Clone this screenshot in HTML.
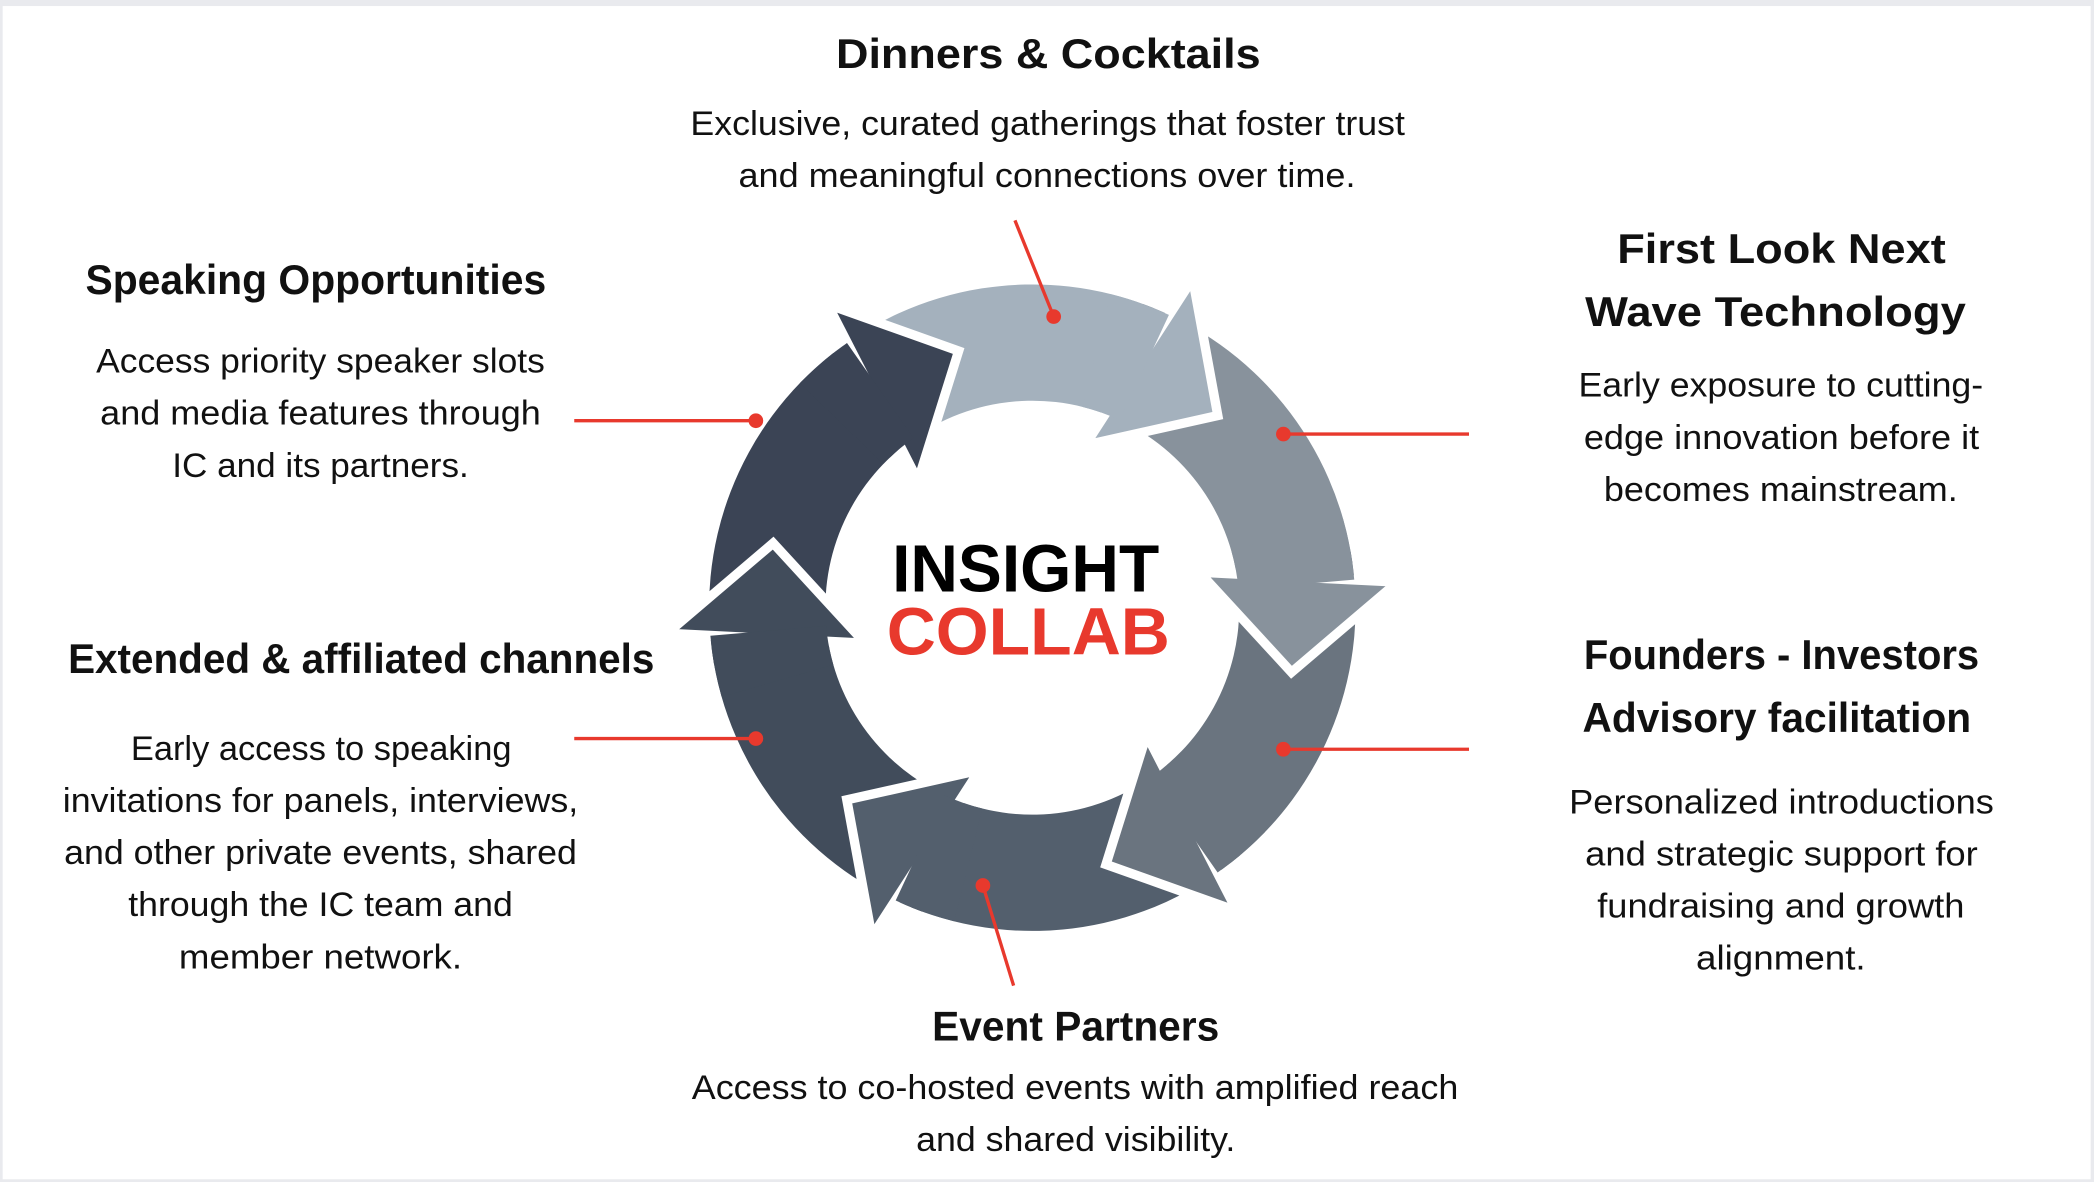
<!DOCTYPE html>
<html><head><meta charset="utf-8"><style>
html,body{margin:0;padding:0;background:#e9eaee;}
svg{display:block;}
text{font-family:"Liberation Sans",sans-serif;fill:#111;}
.t{font-weight:bold;font-size:31px;}
.b{font-size:26px;}
</style></head><body>
<svg width="2094" height="1182" viewBox="0 0 1568 885" xmlns="http://www.w3.org/2000/svg">
<rect x="0" y="0" width="1568" height="885" fill="#e9eaee"/>
<rect x="2" y="4.5" width="1563.5" height="878.5" fill="#ffffff"/>

<defs>
<path id="body" d="M617.4,269.6 A242,242 0 0 1 863.7,230.6 L831.1,311.3 A155,155 0 0 0 673.4,336.3 Z"/>
<path id="head" d="M893.1,208.7 L911.9,311.1 L812.6,333.3 Z"/>
<path id="patch" d="M831.5,220.2 A242,242 0 0 1 875.3,235.7 L838.5,314.5 A155,155 0 0 0 810.5,304.6 Z"/>
</defs>

<!-- bodies -->
<use href="#body" fill="#a4b1bd"/>
<use href="#body" fill="#88929c" transform="rotate(60 773 455)"/>
<use href="#body" fill="#6a747f" transform="rotate(120 773 455)"/>
<use href="#body" fill="#535f6d" transform="rotate(180 773 455)"/>
<use href="#body" fill="#414c5b" transform="rotate(240 773 455)"/>
<use href="#body" fill="#3b4455" transform="rotate(300 773 455)"/>
<!-- heads -->
<g stroke="#fff" stroke-width="7" stroke-linejoin="miter">
<use href="#head" fill="#a4b1bd"/>
<use href="#head" fill="#88929c" transform="rotate(60 773 455)"/>
<use href="#head" fill="#6a747f" transform="rotate(120 773 455)"/>
<use href="#head" fill="#535f6d" transform="rotate(180 773 455)"/>
<use href="#head" fill="#414c5b" transform="rotate(240 773 455)"/>
<use href="#head" fill="#3b4455" transform="rotate(300 773 455)"/>
</g>
<!-- patches -->
<use href="#patch" fill="#a4b1bd"/>
<use href="#patch" fill="#88929c" transform="rotate(60 773 455)"/>
<use href="#patch" fill="#6a747f" transform="rotate(120 773 455)"/>
<use href="#patch" fill="#535f6d" transform="rotate(180 773 455)"/>
<use href="#patch" fill="#414c5b" transform="rotate(240 773 455)"/>
<use href="#patch" fill="#3b4455" transform="rotate(300 773 455)"/>

<!-- logo -->
<text x="668" y="443" font-size="50" font-weight="bold" textLength="200" lengthAdjust="spacingAndGlyphs" style="fill:#000">INSIGHT</text>
<text x="664" y="490" font-size="50" textLength="212" lengthAdjust="spacingAndGlyphs" style="fill:#e8392d;font-weight:bold">COLLAB</text>

<!-- connectors -->
<g stroke="#e8392d" stroke-width="2.5" fill="#e8392d">
<line x1="760" y1="165" x2="789" y2="237"/><circle cx="789" cy="237" r="5.5" stroke="none"/>
<line x1="430" y1="315" x2="566" y2="315"/><circle cx="566" cy="315" r="5.5" stroke="none"/>
<line x1="961" y1="325" x2="1100" y2="325"/><circle cx="961" cy="325" r="5.5" stroke="none"/>
<line x1="430" y1="553" x2="566" y2="553"/><circle cx="566" cy="553" r="5.5" stroke="none"/>
<line x1="961" y1="561" x2="1100" y2="561"/><circle cx="961" cy="561" r="5.5" stroke="none"/>
<line x1="736" y1="663" x2="759" y2="738"/><circle cx="736" cy="663" r="5.5" stroke="none"/>
</g>

<!-- texts -->
<text class="t" x="626" y="51" textLength="318" lengthAdjust="spacingAndGlyphs">Dinners &amp; Cocktails</text>
<text class="b" x="517" y="101" textLength="535" lengthAdjust="spacingAndGlyphs">Exclusive, curated gatherings that foster trust</text>
<text class="b" x="553" y="140" textLength="462" lengthAdjust="spacingAndGlyphs">and meaningful connections over time.</text>

<text class="t" x="64" y="220" textLength="345" lengthAdjust="spacingAndGlyphs">Speaking Opportunities</text>
<text class="b" x="72" y="279" textLength="336" lengthAdjust="spacingAndGlyphs">Access priority speaker slots</text>
<text class="b" x="75" y="318" textLength="330" lengthAdjust="spacingAndGlyphs">and media features through</text>
<text class="b" x="129" y="357" textLength="222" lengthAdjust="spacingAndGlyphs">IC and its partners.</text>

<text class="t" x="51" y="504" textLength="439" lengthAdjust="spacingAndGlyphs">Extended &amp; affiliated channels</text>
<text class="b" x="98" y="569" textLength="285" lengthAdjust="spacingAndGlyphs">Early access to speaking</text>
<text class="b" x="47" y="608" textLength="386" lengthAdjust="spacingAndGlyphs">invitations for panels, interviews,</text>
<text class="b" x="48" y="647" textLength="384" lengthAdjust="spacingAndGlyphs">and other private events, shared</text>
<text class="b" x="96" y="686" textLength="288" lengthAdjust="spacingAndGlyphs">through the IC team and</text>
<text class="b" x="134" y="725" textLength="212" lengthAdjust="spacingAndGlyphs">member network.</text>

<text class="t" x="1211" y="197" textLength="246" lengthAdjust="spacingAndGlyphs">First Look Next</text>
<text class="t" x="1187" y="244" textLength="285" lengthAdjust="spacingAndGlyphs">Wave Technology</text>
<text class="b" x="1182" y="297" textLength="303" lengthAdjust="spacingAndGlyphs">Early exposure to cutting-</text>
<text class="b" x="1186" y="336" textLength="296" lengthAdjust="spacingAndGlyphs">edge innovation before it</text>
<text class="b" x="1201" y="375" textLength="265" lengthAdjust="spacingAndGlyphs">becomes mainstream.</text>

<text class="t" x="1186" y="501" textLength="296" lengthAdjust="spacingAndGlyphs">Founders - Investors</text>
<text class="t" x="1185" y="548" textLength="291" lengthAdjust="spacingAndGlyphs">Advisory facilitation</text>
<text class="b" x="1175" y="609" textLength="318" lengthAdjust="spacingAndGlyphs">Personalized introductions</text>
<text class="b" x="1187" y="648" textLength="294" lengthAdjust="spacingAndGlyphs">and strategic support for</text>
<text class="b" x="1196" y="687" textLength="275" lengthAdjust="spacingAndGlyphs">fundraising and growth</text>
<text class="b" x="1270" y="726" textLength="127" lengthAdjust="spacingAndGlyphs">alignment.</text>

<text class="t" x="698" y="779" textLength="215" lengthAdjust="spacingAndGlyphs">Event Partners</text>
<text class="b" x="518" y="823" textLength="574" lengthAdjust="spacingAndGlyphs">Access to co-hosted events with amplified reach</text>
<text class="b" x="686" y="862" textLength="239" lengthAdjust="spacingAndGlyphs">and shared visibility.</text>
</svg>
</body></html>
